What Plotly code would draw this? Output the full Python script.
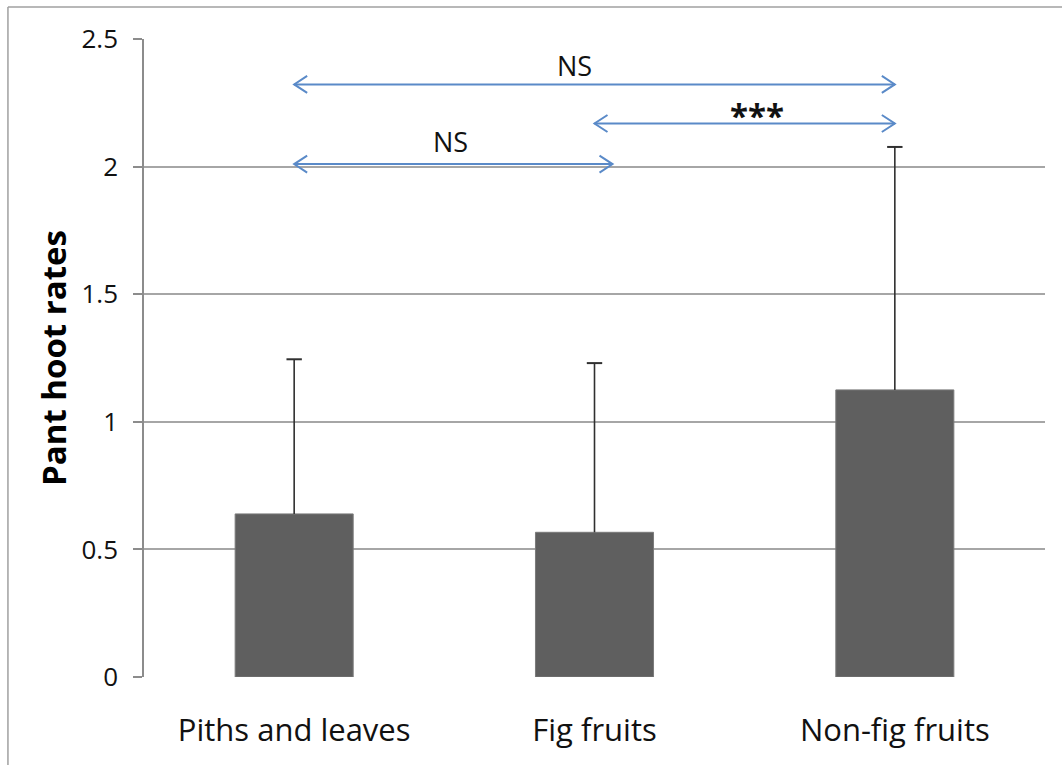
import plotly.graph_objects as go

categories = ["Piths and leaves", "Fig fruits", "Non-fig fruits"]
means = [0.639, 0.567, 1.125]
err_upper = [0.606, 0.663, 0.952]
y_ticks = [0, 0.5, 1, 1.5, 2, 2.5]
y_ticktext = ["0", "0.5", "1", "1.5", "2", "2.5"]

# significance brackets (category index positions)
arrow_start = [0, 1, 0]
arrow_end = [2, 2, 1.06]
arrow_y = [2.322, 2.169, 2.010]
sig_text = ["NS", "***", "NS"]
sig_text_x = [0.933, 1.54, 0.522]
sig_text_y = [2.395, 2.20, 2.097]

FONT = "Open Sans"
ARROW = "#5a8ac8"
ERR = "#303030"

xpos = list(range(len(categories)))

fig = go.Figure()
fig.add_trace(go.Bar(
    x=xpos, y=means, width=0.393,
    marker=dict(color="#5f5f5f", line=dict(color="#7a7a7a", width=1)),
    hoverinfo="skip",
))

# one-sided (upper) error bars: stems + top caps
stem_x, stem_y = [], []
for i, (m, e) in enumerate(zip(means, err_upper)):
    stem_x += [i, i, None]
    stem_y += [m, m + e, None]
fig.add_trace(go.Scatter(x=stem_x, y=stem_y, mode="lines",
                         line=dict(color=ERR, width=1.6), hoverinfo="skip"))
fig.add_trace(go.Scatter(x=xpos, y=[m + e for m, e in zip(means, err_upper)],
                         mode="markers",
                         marker=dict(symbol="line-ew", size=11,
                                     line=dict(color=ERR, width=2)),
                         hoverinfo="skip"))

shapes = []
for x0, x1, y in zip(arrow_start, arrow_end, arrow_y):
    shapes.append(dict(type="line", xref="x", yref="y", x0=x0, x1=x1, y0=y, y1=y,
                       line=dict(color=ARROW, width=2)))
    shapes.append(dict(type="path", xref="x", yref="y", xsizemode="pixel", ysizemode="pixel",
                       xanchor=x1, yanchor=y, path="M -13,8.5 L 0,0 L -13,-8.5",
                       line=dict(color=ARROW, width=2)))
    shapes.append(dict(type="path", xref="x", yref="y", xsizemode="pixel", ysizemode="pixel",
                       xanchor=x0, yanchor=y, path="M 13,8.5 L 0,0 L 13,-8.5",
                       line=dict(color=ARROW, width=2)))

# outer frame (left and top edges)
shapes.append(dict(type="line", xref="paper", yref="paper", x0=-0.151, x1=-0.151,
                   y0=1.0502, y1=-0.2, line=dict(color="#a0a0a0", width=1.5)))
shapes.append(dict(type="line", xref="paper", yref="paper", x0=-0.151, x1=1.03,
                   y0=1.0502, y1=1.0502, line=dict(color="#a0a0a0", width=1.5)))

annotations = []
for t, x, y in zip(sig_text, sig_text_x, sig_text_y):
    if t == "NS":
        txt, size = t, 27
    else:
        txt, size = "<b>" + t + "</b>", 33
    annotations.append(dict(x=x, y=y, xref="x", yref="y", text=txt, showarrow=False,
                            font=dict(family=FONT, size=size, color="#111111")))

fig.update_layout(
    width=1062, height=765,
    margin=dict(l=144, r=17, t=39, b=88),
    paper_bgcolor="white", plot_bgcolor="white",
    showlegend=False,
    shapes=shapes, annotations=annotations,
    font=dict(family=FONT, color="#111111"),
    xaxis=dict(range=[-0.5, 2.5], tickvals=xpos, ticktext=categories,
               showgrid=False, zeroline=False, showline=False, ticks="",
               tickfont=dict(size=31, family=FONT, color="#111111"),
               ticklabelstandoff=32),
    yaxis=dict(range=[0, 2.5], tickvals=y_ticks, ticktext=y_ticktext,
               showgrid=True, gridcolor="#a6a6a6", gridwidth=1.5,
               zeroline=False, showline=True, linecolor="#8c8c8c", linewidth=1.5,
               ticks="outside", ticklen=9, tickcolor="#8c8c8c", tickwidth=1.5,
               tickfont=dict(size=26, family=FONT, color="#111111"),
               ticklabelstandoff=10,
               title=dict(text="<b>Pant hoot rates</b>", standoff=5,
                          font=dict(size=33, family=FONT, color="#000000"))),
)

fig.write_html("out.html")
